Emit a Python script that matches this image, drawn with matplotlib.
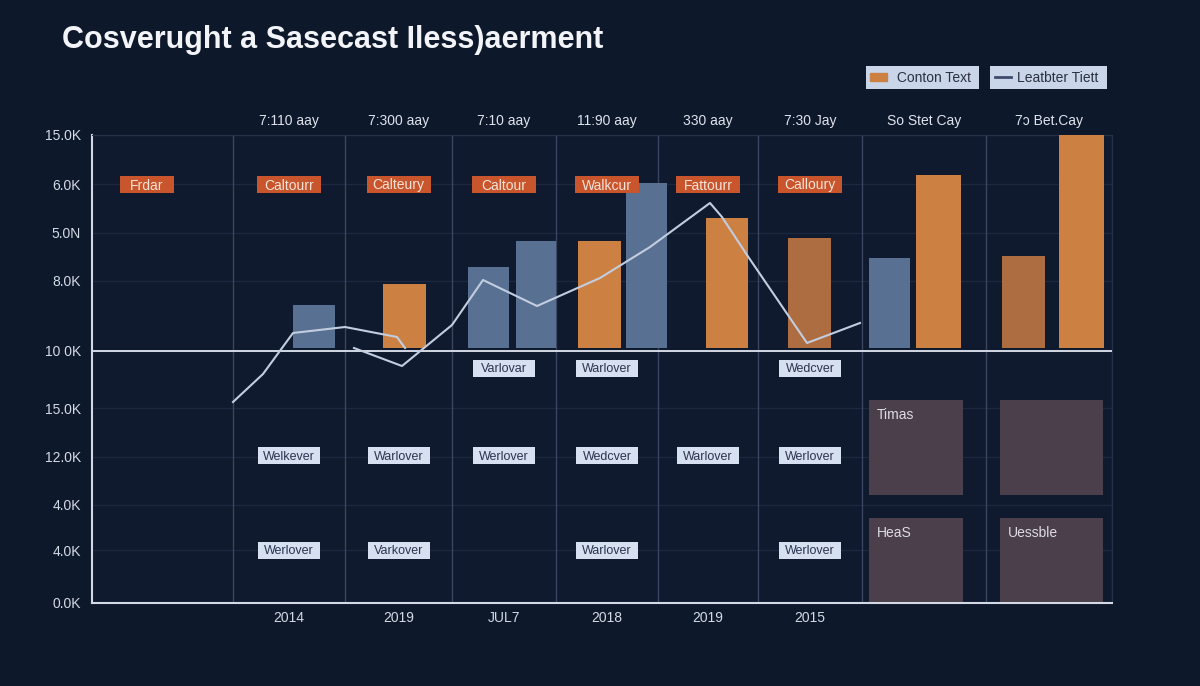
import matplotlib
matplotlib.use("Agg")
import matplotlib.pyplot as plt
from matplotlib.patches import Rectangle, Patch
from matplotlib.lines import Line2D

plt.rcParams['font.family'] = ['Liberation Sans', 'DejaVu Sans']

# data (y in chart units above the floor)
title = "Cosverught a Sasecast Iless)aerment"
top_labels = ["7:110 aay", "7:300 aay", "7:10 aay", "11:90 aay", "330 aay",
              "7:30 Jay", "So Stet Cay", "7ɔ Bet.Cay"]
bottom_labels = ["2014", "2019", "JUL7", "2018", "2019", "2015"]
ytick_vals = [0, 53, 98, 146, 195, 252, 322, 370, 419, 468]
ytick_labels = ["0.0K", "4.0K", "4.0K", "12.0K", "15.0K", "10 0K", "8.0K",
                "5.0N", "6.0K", "15.0K"]

bar_tops = [298, 319, 336, 362, 362, 420, 385, 365, 345, 428, 347, 468]
bar_kind = ["blue", "orange", "blue", "blue", "orange", "blue", "orange",
            "brown", "blue", "orange", "brown", "orange"]
bar_floor = 255
baseline = 252

line1_x = [141, 171, 201, 253, 305, 313]
line1_y = [201, 229, 270, 276, 266, 255]
line2_x = [262, 310, 360, 391, 445, 508, 558, 618, 630, 655, 715, 768]
line2_y = [255, 237, 278, 323, 297, 325, 356, 400, 386, 348, 260, 280]

orange_tags = ["Frdar", "Caltourr", "Calteury", "Caltour", "Walkcur",
               "Fattourr", "Calloury"]
light_rows = {
    235: {3: "Varlovar", 4: "Warlover", 6: "Wedcver"},
    148: {1: "Welkever", 2: "Warlover", 3: "Werlover", 4: "Wedcver",
          5: "Warlover", 6: "Werlover"},
    53: {1: "Werlover", 2: "Varkover", 4: "Warlover", 6: "Werlover"},
}
block_labels = ["Timas", "", "HeaS", "Uessble"]
legend_labels = ["Conton Text", "Leatbter Tiett"]

# layout
col_edges = [0, 141, 253, 360, 464, 566, 666, 770, 894, 1020]
col_mid = [(a + b) / 2 for a, b in zip(col_edges[:-1], col_edges[1:])]
bar_x = [222, 312.5, 396.5, 444, 507.5, 554.5, 635, 717.5, 797.5, 846.5, 931.5, 989.5]
bar_w = [42, 43, 41, 40, 43, 41, 42, 43, 41, 45, 43, 45]
colors = {"blue": "#587092", "orange": "#cc8142", "brown": "#ad6d40"}
blocks = [(777, 108, 94, 95), (908, 108, 103, 95), (777, 0, 94, 85), (908, 0, 103, 85)]
orange_w = [54, 64, 64, 64, 64, 64, 64]
light_w, tag_h = 62, 17

bg = "#0e182b"
fig = plt.figure(figsize=(12, 6.86), dpi=100, facecolor=bg)
ax = fig.add_axes([92 / 1200, 83 / 686, 1020 / 1200, 468 / 686])
ax.set_facecolor("#0f1a2e")
ax.set_xlim(0, 1020)
ax.set_ylim(0, 468)

# grid
for y in ytick_vals[1:]:
    ax.axhline(y, color="#1c2840", lw=1, zorder=0)
for x in col_edges[1:-1]:
    ax.axvline(x, color="#3a4660", lw=1, zorder=1)
ax.axvline(1020, color="#26324a", lw=1, zorder=1)
ax.axhline(baseline, color="#d2d9e4", lw=1.4, zorder=4)

for s in ["top", "right"]:
    ax.spines[s].set_color("#26324a")
for s in ["left", "bottom"]:
    ax.spines[s].set_color("#d2d9e4")
    ax.spines[s].set_linewidth(1.5)

# bars
ax.bar(bar_x, [t - bar_floor for t in bar_tops], width=bar_w, bottom=bar_floor,
       color=[colors[k] for k in bar_kind], zorder=3)

# line
ax.plot(line1_x, line1_y, color="#c2cde0", lw=1.5, zorder=5)
ax.plot(line2_x, line2_y, color="#c2cde0", lw=1.5, zorder=5)


def tag(x, y, w, text, fc, tc, size):
    ax.add_patch(Rectangle((x - w / 2, y - tag_h / 2), w, tag_h, fc=fc, ec="none",
                           zorder=6))
    ax.text(x, y, text, ha="center", va="center_baseline", fontsize=size, color=tc,
            zorder=7)


# orange tags
tag_x = [55] + col_mid[1:7]
for x, w, t in zip(tag_x, orange_w, orange_tags):
    tag(x, 419, w, t, "#c9552c", "#f4e4da", 10)

# light tags
for y, row in light_rows.items():
    for c, t in row.items():
        tag(col_mid[c], y, light_w, t, "#d6e0f0", "#2a3450", 9)

# dark blocks
for (x, y, w, h), t in zip(blocks, block_labels):
    ax.add_patch(Rectangle((x, y), w, h, fc="#4a3f4b", ec="none", zorder=2))
    if t:
        ax.text(x + 8, y + h - 15, t, ha="left", va="center", fontsize=10,
                color="#dcdce4", zorder=6)

# axis labels
ax.set_yticks(ytick_vals)
ax.set_yticklabels(ytick_labels)
ax.set_xticks(col_mid[1:7])
ax.set_xticklabels(bottom_labels)
ax.tick_params(length=0, colors="#d4dae4", labelsize=10)
ax.tick_params(axis="y", pad=8)
ax.tick_params(axis="x", pad=6)
for x, t in zip(col_mid[1:], top_labels):
    ax.text(x, 482, t, ha="center", va="center", fontsize=10, color="#dfe4ec",
            clip_on=False)

fig.text(62 / 1200, 1 - 40 / 686, title, ha="left", va="center", fontsize=22,
         fontweight="bold", color="#f2f4f8")

# legend boxes
leg_kw = dict(frameon=True, fancybox=False, facecolor="#c9d5e9", edgecolor="none",
              framealpha=1, fontsize=10, handlelength=1.2, handleheight=0.5,
              borderpad=0.35, borderaxespad=0, handletextpad=0.4,
              labelcolor="#2a3040", loc="center")
leg1 = fig.legend([Patch(color="#cc8142")], [" " + legend_labels[0] + " "],
                  bbox_to_anchor=(922.5 / 1200, 1 - 77.5 / 686), **leg_kw)
fig.add_artist(leg1)
fig.legend([Line2D([], [], color="#3e4c6c", lw=2)], [legend_labels[1] + " "],
           bbox_to_anchor=(1048.5 / 1200, 1 - 77.5 / 686), **leg_kw)

fig.savefig("out.png", dpi=100, facecolor=bg)
